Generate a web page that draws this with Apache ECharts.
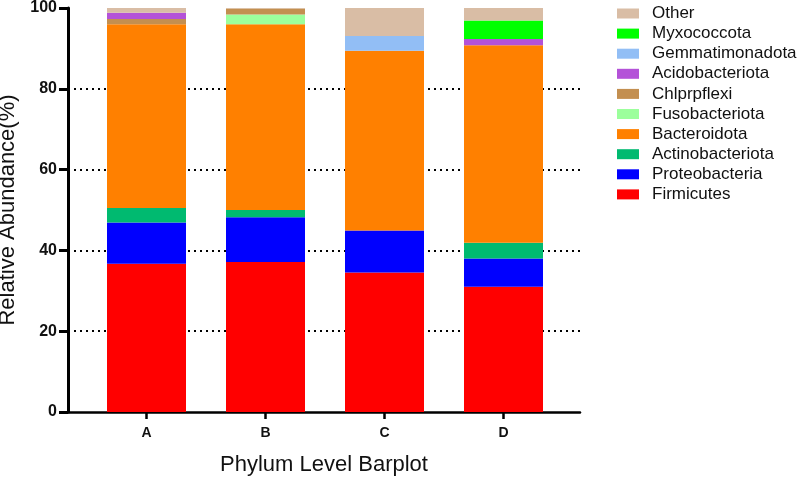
<!DOCTYPE html>
<html>
<head>
<meta charset="utf-8">
<script src="https://cdn.jsdelivr.net/npm/echarts@6/dist/echarts.min.js"></script>
<style>html,body{margin:0;padding:0;background:#fff}#c{width:797px;height:477px}</style>
</head>
<body>
<div id="c"></div>
<script>
var categories = ['A', 'B', 'C', 'D'];
var Firmicutes       = [36.7, 37.1, 34.5, 31.0];
var Proteobacteria   = [10.2, 11.1, 10.4, 7.0];
var Actinobacteriota = [3.6, 1.8, 0, 3.9];
var Bacteroidota     = [45.5, 46.0, 44.5, 48.9];
var Fusobacteriota   = [0, 2.4, 0, 0];
var Chlprpflexi      = [1.3, 1.5, 0, 0];
var Acidobacteriota  = [1.5, 0, 0, 1.5];
var Gemmatimonadota  = [0, 0, 3.7, 0];
var Myxococcota      = [0, 0, 0, 4.6];
var Other            = [1.2, 0.1, 6.9, 3.1];
var yTicks = [0, 20, 40, 60, 80, 100];

var seriesDefs = [
  ['Firmicutes', Firmicutes, '#FF0000'],
  ['Proteobacteria', Proteobacteria, '#0000FF'],
  ['Actinobacteriota', Actinobacteriota, '#00BA70'],
  ['Bacteroidota', Bacteroidota, '#FF8000'],
  ['Fusobacteriota', Fusobacteriota, '#9CFF9C'],
  ['Chlprpflexi', Chlprpflexi, '#C38F50'],
  ['Acidobacteriota', Acidobacteriota, '#B452D8'],
  ['Gemmatimonadota', Gemmatimonadota, '#92BEF5'],
  ['Myxococcota', Myxococcota, '#00FF00'],
  ['Other', Other, '#D9BDA5']
];

var series = seriesDefs.map(function (d) {
  return {
    name: d[0],
    type: 'bar',
    stack: 'total',
    xAxisIndex: 0,
    yAxisIndex: 0,
    barWidth: 79,
    itemStyle: { color: d[2] },
    emphasis: { disabled: true },
    data: d[1]
  };
});

var font = 'Liberation Sans, Arial';
var chart = echarts.init(document.getElementById('c'), null, { renderer: 'canvas' });
chart.setOption({
  animation: false,
  backgroundColor: '#ffffff',
  grid: [
    { left: 87, right: 234, top: 8, bottom: 65, containLabel: false, outerBoundsMode: 'none' },
    { left: 68, right: 217, top: 8, bottom: 65, containLabel: false, outerBoundsMode: 'none' }
  ],
  legend: {
    orient: 'vertical',
    left: 617,
    top: 5,
    padding: 0,
    itemWidth: 22,
    itemHeight: 10,
    itemGap: 3.1,
    icon: 'rect',
    selectedMode: false,
    data: seriesDefs.map(function (d) { return d[0]; }).reverse(),
    textStyle: { fontFamily: font, fontSize: 17, color: '#111', padding: [0, 0, 0, 8] }
  },
  xAxis: [
    {
      type: 'category',
      gridIndex: 0,
      data: categories,
      axisLine: { show: false },
      axisTick: { show: true, alignWithLabel: true, length: 7, lineStyle: { color: '#000', width: 2.5 } },
      axisLabel: { margin: 14, fontFamily: font, fontSize: 14, fontWeight: 'bold', color: '#111' },
      splitLine: { show: false }
    },
    {
      type: 'value',
      gridIndex: 1,
      min: 0,
      max: 1,
      name: 'Phylum Level Barplot',
      nameLocation: 'middle',
      nameGap: 42,
      nameTextStyle: { fontFamily: font, fontSize: 22, color: '#111' },
      axisLine: { show: true, onZero: false, lineStyle: { color: '#000', width: 2.5 } },
      axisTick: { show: false },
      axisLabel: { show: false },
      splitLine: { show: false }
    }
  ],
  yAxis: [
    {
      type: 'value',
      gridIndex: 0,
      min: 0,
      max: 100,
      interval: 20,
      show: false,
      splitLine: { show: false }
    },
    {
      type: 'value',
      gridIndex: 1,
      min: 0,
      max: 100,
      interval: 20,
      name: 'Relative Abundance(%)',
      nameLocation: 'middle',
      nameGap: 49,
      nameTextStyle: { fontFamily: font, fontSize: 22, color: '#111' },
      axisLine: { show: true, onZero: false, lineStyle: { color: '#000', width: 3 } },
      axisTick: { show: true, length: 9, lineStyle: { color: '#000', width: 3 } },
      axisLabel: {
        margin: 11,
        fontFamily: font, fontSize: 16, fontWeight: 'bold', color: '#111',
        formatter: function (v) { return yTicks.indexOf(v) >= 0 ? String(v) : ''; }
      },
      splitLine: {
        show: true,
        showMinLine: false,
        showMaxLine: false,
        lineStyle: { color: '#000', width: 2, type: [2, 4] }
      }
    }
  ],
  series: series
});
</script>
</body>
</html>
